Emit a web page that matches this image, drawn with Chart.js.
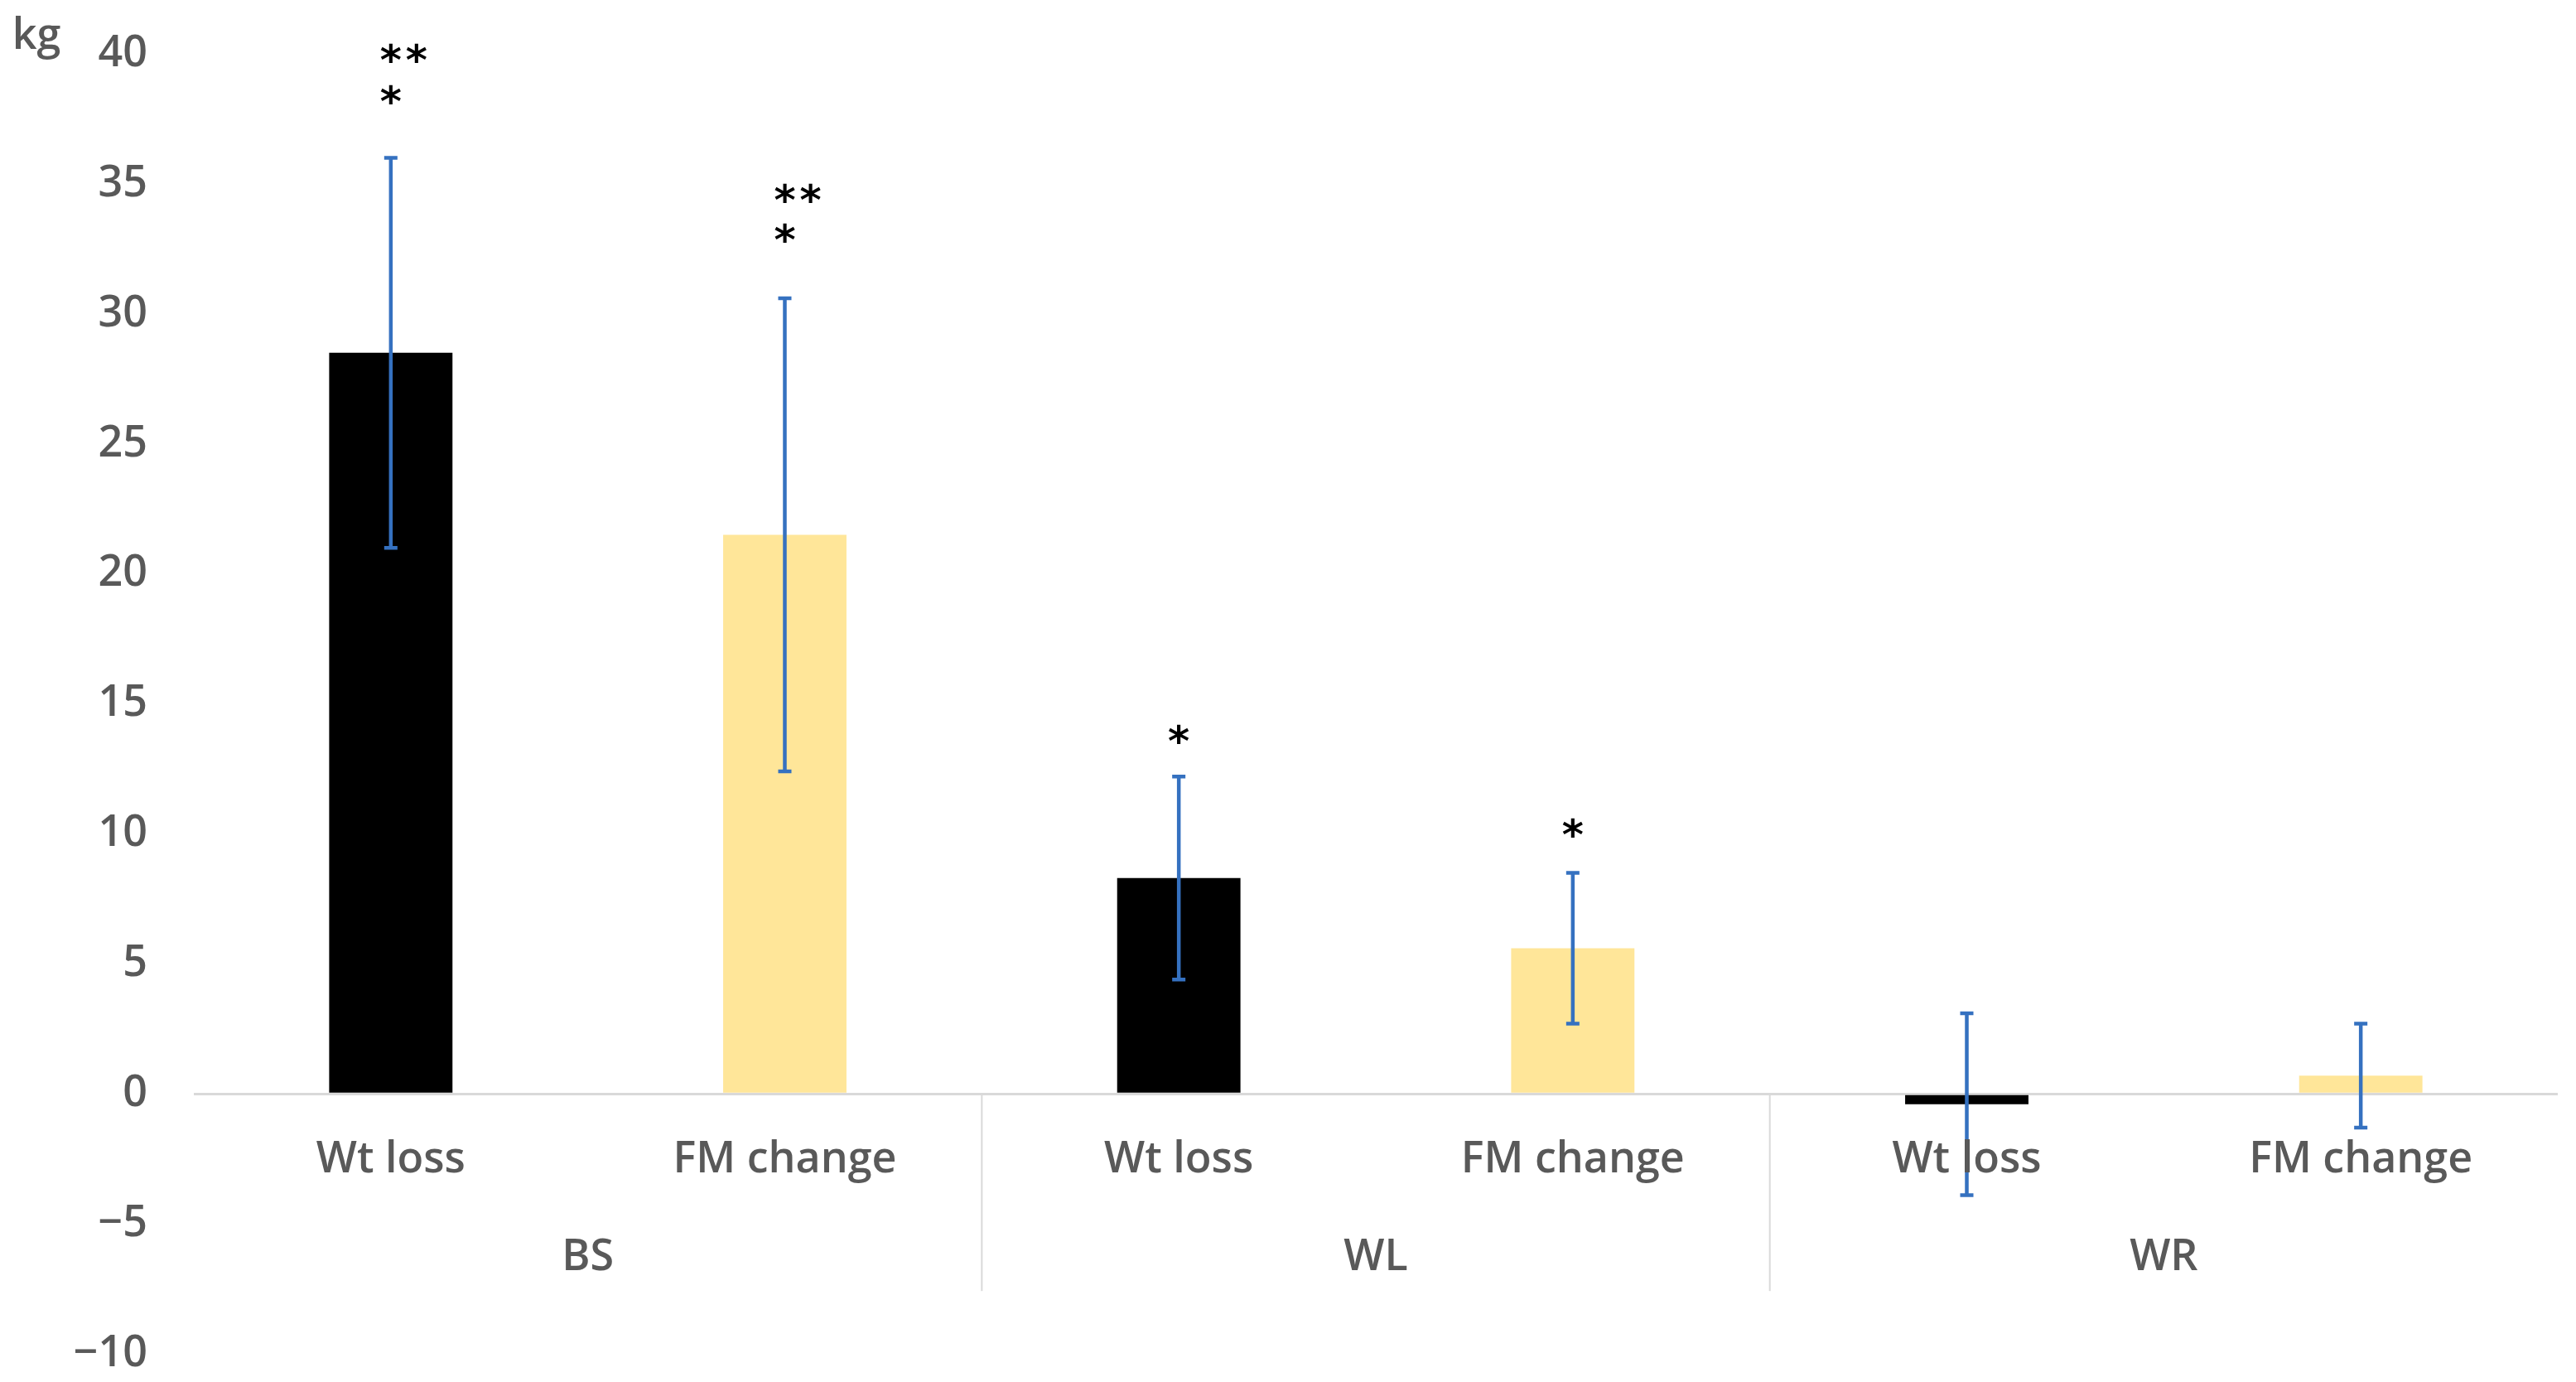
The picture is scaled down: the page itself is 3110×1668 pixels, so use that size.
<!DOCTYPE html>
<html>
<head>
<meta charset="utf-8">
<title>Weight and fat mass change</title>
<script src="https://cdn.jsdelivr.net/npm/chart.js@4/dist/chart.umd.min.js"></script>
<style>
    html, body { margin: 0; padding: 0; background: #fff; }
    #wrap { width: 3110px; height: 1668px; position: relative; }
</style>
</head>
<body>
<div id="wrap"><canvas id="chart"></canvas></div>
<script>
// =====================
// DATA
// =====================

const groups = ['BS', 'WL', 'WR'];
const measures = ['Wt loss', 'FM change'];
const values = [28.5, 21.5, 8.3, 5.6, -0.4, 0.7];
const errors = [7.5, 9.1, 3.9, 2.9, 3.5, 2.0];
// significance marks: one string per text line, with the kg level each line sits at
const starLines = [['**', '*'], ['**', '*'], ['*'], ['*'], [], []];
const starLevels = [[40.0, 38.4], [34.6, 33.1], [13.8], [10.2], [], []];
const yTicks = { min: -10, max: 40, step: 5 };
const unitLabel = 'kg';

const labels = [];
groups.forEach(g => measures.forEach(m => labels.push(g + '|' + m)));

// =====================
// STYLE
// =====================

const FONT = '"Open Sans", "Liberation Sans", sans-serif';
const TEXT_COLOR = '#595959';
const AXIS_COLOR = '#d9d9d9';
const ERR_COLOR = '#3571c0';
const measureColors = ['#000000', '#ffe699'];

// =====================
// PLUGIN: error bars, group axis, stars
// =====================

const decorations = {
    id: 'decorations',
    afterDatasetsDraw(chart) {
        const ctx = chart.ctx;
        const x = chart.scales.x;
        const y = chart.scales.y;
        const zero = y.getPixelForValue(0);

        ctx.save();

        // error bars
        ctx.strokeStyle = ERR_COLOR;
        ctx.lineWidth = 4.5;
        values.forEach((v, i) => {
            const cx = x.getPixelForValue(i);
            const top = y.getPixelForValue(v + errors[i]);
            const bot = y.getPixelForValue(v - errors[i]);
            ctx.beginPath();
            ctx.moveTo(cx, top);
            ctx.lineTo(cx, bot);
            ctx.moveTo(cx - 8, top);
            ctx.lineTo(cx + 8, top);
            ctx.moveTo(cx - 8, bot);
            ctx.lineTo(cx + 8, bot);
            ctx.stroke();
        });

        // category + group labels under the zero line
        ctx.fillStyle = TEXT_COLOR;
        ctx.font = '600 52px ' + FONT;
        ctx.textAlign = 'center';
        ctx.textBaseline = 'middle';
        labels.forEach((l, i) => {
            ctx.fillText(l.split('|')[1], x.getPixelForValue(i), zero + 80);
        });
        groups.forEach((g, gi) => {
            const first = x.getPixelForValue(gi * measures.length);
            const last = x.getPixelForValue(gi * measures.length + measures.length - 1);
            ctx.fillText(g, (first + last) / 2, zero + 198);
        });

        // group dividers
        ctx.strokeStyle = AXIS_COLOR;
        ctx.lineWidth = 2;
        const step = x.getPixelForValue(1) - x.getPixelForValue(0);
        for (let gi = 1; gi < groups.length; gi++) {
            const dx = x.getPixelForValue(gi * measures.length) - step / 2;
            ctx.beginPath();
            ctx.moveTo(dx, zero);
            ctx.lineTo(dx, zero + 238);
            ctx.stroke();
        }

        // unit label
        ctx.fillText(unitLabel, 44, 44);

        // stars
        ctx.fillStyle = '#000';
        ctx.font = 'bold 50px "DejaVu Sans", sans-serif';
        starLines.forEach((lines, i) => {
            const cx = x.getPixelForValue(i);
            lines.forEach((line, li) => {
                const cy = y.getPixelForValue(starLevels[i][li]);
                for (let k = 0; k < line.length; k++) {
                    ctx.fillText(line[k], cx + k * 31, cy + 12);
                }
            });
        });

        ctx.restore();
    }
};

// =====================
// CHART
// =====================

new Chart(document.getElementById('chart'), {
    type: 'bar',
    data: {
        labels: labels,
        datasets: [{
            data: values,
            backgroundColor: labels.map((l, i) => measureColors[i % measures.length]),
            borderWidth: 0,
            categoryPercentage: 1,
            barPercentage: 0.313,
        }],
    },
    options: {
        responsive: true,
        maintainAspectRatio: false,
        animation: false,
        layout: { padding: { left: 0, right: 22, top: 65, bottom: 34 } },
        plugins: {
            legend: { display: false },
            tooltip: { enabled: false },
        },
        scales: {
            x: { display: false },
            y: {
                min: yTicks.min,
                max: yTicks.max,
                afterFit: (scale) => {
                    scale.width = 234;
                    // tick padding would otherwise push the plot area inward
                    scale.paddingTop = 0;
                    scale.paddingBottom = 0;
                },
                ticks: {
                    stepSize: yTicks.step,
                    padding: 56,
                    color: TEXT_COLOR,
                    font: { family: FONT, size: 52, weight: '600' },
                    callback: (v) => String(v).replace('-', '\u2212'),
                },
                grid: {
                    drawTicks: false,
                    lineWidth: 3,
                    color: (c) => (c.tick && c.tick.value === 0 ? AXIS_COLOR : 'rgba(0,0,0,0)'),
                },
                border: { display: false },
            },
        },
    },
    plugins: [decorations],
});
</script>
</body>
</html>
